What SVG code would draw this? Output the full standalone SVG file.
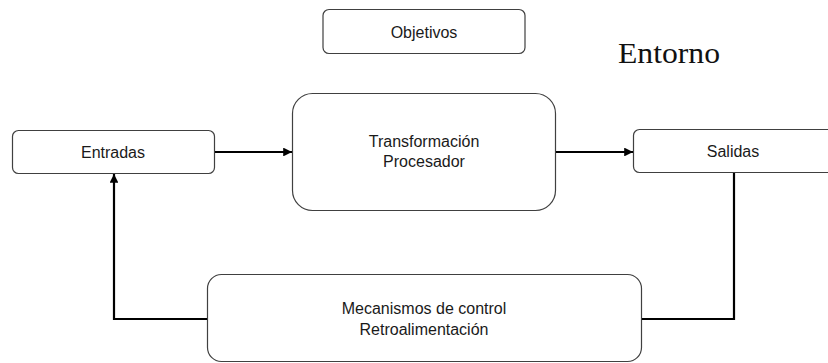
<svg xmlns="http://www.w3.org/2000/svg" width="828" height="363" viewBox="0 0 828 363">
<style>
.box{fill:#fff;stroke:#404040;stroke-width:1.2}
.lbl{font-family:"Liberation Sans",Arial,sans-serif;font-size:16px;fill:#1a1a1a;text-anchor:middle}
.con{fill:none;stroke:#000;stroke-width:2.2}
</style>
<defs>
<marker id="ah" viewBox="0 0 10 10" refX="10" refY="5" markerWidth="4" markerHeight="4" orient="auto" markerUnits="strokeWidth">
<path d="M0,0 L10,5 L0,10 z" fill="#000"/>
</marker>
</defs>
<rect width="828" height="363" fill="#fff"/>
<g id="objetivos">
<rect class="box" x="323" y="9.5" width="202" height="44" rx="6"/>
<text class="lbl" x="424" y="38">Objetivos</text>
</g>
<g id="entorno">
<text x="618" y="62.5" font-family="'Liberation Serif','Times New Roman',serif" font-size="29" fill="#111" textLength="102" lengthAdjust="spacingAndGlyphs">Entorno</text>
</g>
<g id="entradas">
<rect class="box" x="12.5" y="130.5" width="202" height="43" rx="6"/>
<text class="lbl" x="113" y="158">Entradas</text>
</g>
<g id="transformacion">
<rect class="box" x="292.5" y="93.5" width="263" height="117" rx="20"/>
<text class="lbl" x="424" y="147">Transformación</text>
<text class="lbl" x="424" y="167">Procesador</text>
</g>
<g id="salidas">
<rect class="box" x="633.5" y="129.5" width="210" height="43" rx="6"/>
<text class="lbl" x="733" y="157">Salidas</text>
</g>
<g id="mecanismos">
<rect class="box" x="207.5" y="274.5" width="434" height="87" rx="14"/>
<text class="lbl" x="424" y="314">Mecanismos de control</text>
<text class="lbl" x="424" y="335">Retroalimentación</text>
</g>
<g id="connectors">
<line class="con" x1="215" y1="152" x2="292" y2="152" marker-end="url(#ah)"/>
<line class="con" x1="556" y1="152" x2="633" y2="152" marker-end="url(#ah)"/>
<polyline class="con" points="734,173 734,319 642,319"/>
<polyline class="con" points="207,319 114,319 114,174" marker-end="url(#ah)"/>
</g>
</svg>
